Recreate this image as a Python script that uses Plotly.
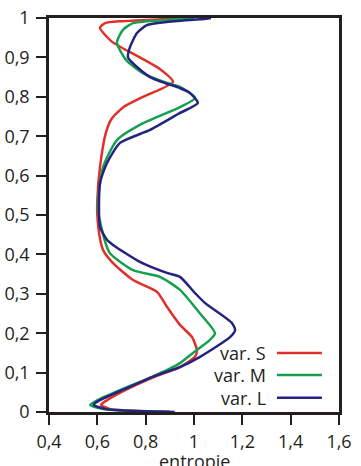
import plotly.graph_objects as go

series_names = ["var. S", "var. M", "var. L"]
colors = ["#e0302a", "#15a050", "#25237f"]
x_title = "entropie"

s_y = [0.0, 0.003, 0.008, 0.018, 0.03, 0.06, 0.09, 0.114, 0.14, 0.157, 0.19, 0.221, 0.267, 0.305, 0.335, 0.378, 0.411, 0.437, 0.5, 0.538, 0.622, 0.708, 0.745, 0.775, 0.80, 0.838, 0.87, 0.9, 0.94, 0.975, 0.987, 0.992, 0.997, 1.0]
s_x = [0.90, 0.75, 0.65, 0.615, 0.64, 0.73, 0.84, 0.942, 1.004, 1.012, 0.992, 0.942, 0.888, 0.847, 0.748, 0.665, 0.624, 0.612, 0.60, 0.60, 0.611, 0.635, 0.66, 0.71, 0.789, 0.913, 0.86, 0.776, 0.66, 0.611, 0.632, 0.70, 0.87, 0.97]

m_y = [0.0, 0.003, 0.008, 0.018, 0.03, 0.06, 0.09, 0.124, 0.15, 0.183, 0.2, 0.25, 0.31, 0.343, 0.36, 0.403, 0.437, 0.5, 0.538, 0.622, 0.69, 0.733, 0.774, 0.797, 0.825, 0.835, 0.86, 0.893, 0.937, 0.97, 0.987, 0.997, 1.0]
m_x = [0.90, 0.72, 0.62, 0.57, 0.60, 0.71, 0.83, 0.942, 0.996, 1.066, 1.087, 1.025, 0.942, 0.859, 0.748, 0.652, 0.63, 0.606, 0.603, 0.624, 0.681, 0.789, 0.942, 1.004, 0.942, 0.888, 0.789, 0.72, 0.681, 0.706, 0.748, 0.942, 1.0]

l_y = [0.0, 0.003, 0.008, 0.018, 0.03, 0.06, 0.09, 0.114, 0.14, 0.19, 0.208, 0.226, 0.277, 0.302, 0.343, 0.353, 0.381, 0.424, 0.437, 0.47, 0.581, 0.632, 0.683, 0.716, 0.759, 0.784, 0.81, 0.822, 0.85, 0.90, 0.926, 0.962, 0.982, 0.99, 0.998, 1.0]
l_x = [0.92, 0.74, 0.63, 0.585, 0.61, 0.72, 0.83, 0.942, 1.025, 1.149, 1.17, 1.157, 1.045, 1.004, 0.942, 0.888, 0.776, 0.665, 0.64, 0.611, 0.611, 0.64, 0.694, 0.818, 0.942, 1.016, 0.983, 0.942, 0.818, 0.727, 0.735, 0.764, 0.805, 0.888, 1.05, 1.07]

x_ticks = [0.4, 0.6, 0.8, 1.0, 1.2, 1.4, 1.6]
y_ticks = [0, 0.1, 0.2, 0.3, 0.4, 0.5, 0.6, 0.7, 0.8, 0.9, 1]

fig = go.Figure()
for name, xs, ys, c in zip(series_names, [s_x, m_x, l_x], [s_y, m_y, l_y], colors):
    fig.add_trace(go.Scatter(x=xs, y=ys, mode="lines", name=name,
                             line=dict(color=c, width=2.5, shape="spline", smoothing=0.6),
                             showlegend=False, cliponaxis=True))

font = dict(family="Open Sans, sans-serif", size=18, color="#231f20")
axis_common = dict(showline=True, linecolor="#231f20", linewidth=2.5, mirror=True,
                   ticks="outside", ticklen=10, tickwidth=2, tickcolor="#231f20",
                   showgrid=False, zeroline=False, tickfont=font, automargin=False)

# legend replica: text right, line sample to the right
leg_y = [0.150, 0.094, 0.036]
for name, c, yy in zip(series_names, colors, leg_y):
    fig.add_annotation(x=0.755, y=yy, xref="paper", yref="paper", text=name,
                       showarrow=False, xanchor="right", yanchor="middle", font=font)
    fig.add_shape(type="line", xref="paper", yref="paper", x0=0.786, x1=0.941,
                  y0=yy, y1=yy, line=dict(color=c, width=2.5))

# x-axis title placed below tick labels
fig.add_annotation(x=0.5, y=0, xref="paper", yref="paper", text=x_title, showarrow=False,
                   xanchor="center", yanchor="top", yshift=-35, font=font)

fig.update_layout(
    width=361, height=466,
    margin=dict(l=49, r=22, t=18, b=54),
    paper_bgcolor="white", plot_bgcolor="white",
    separators=", ",
    font=font,
    xaxis=dict(range=[0.4, 1.6], tickvals=x_ticks, ticklabelstandoff=2, **axis_common),
    yaxis=dict(range=[0, 1], tickvals=y_ticks, ticklabelstandoff=3, **axis_common),
)

fig.write_html("out.html", config={"displayModeBar": False},
               post_script="document.body.style.margin='0';document.body.style.overflow='hidden';")
